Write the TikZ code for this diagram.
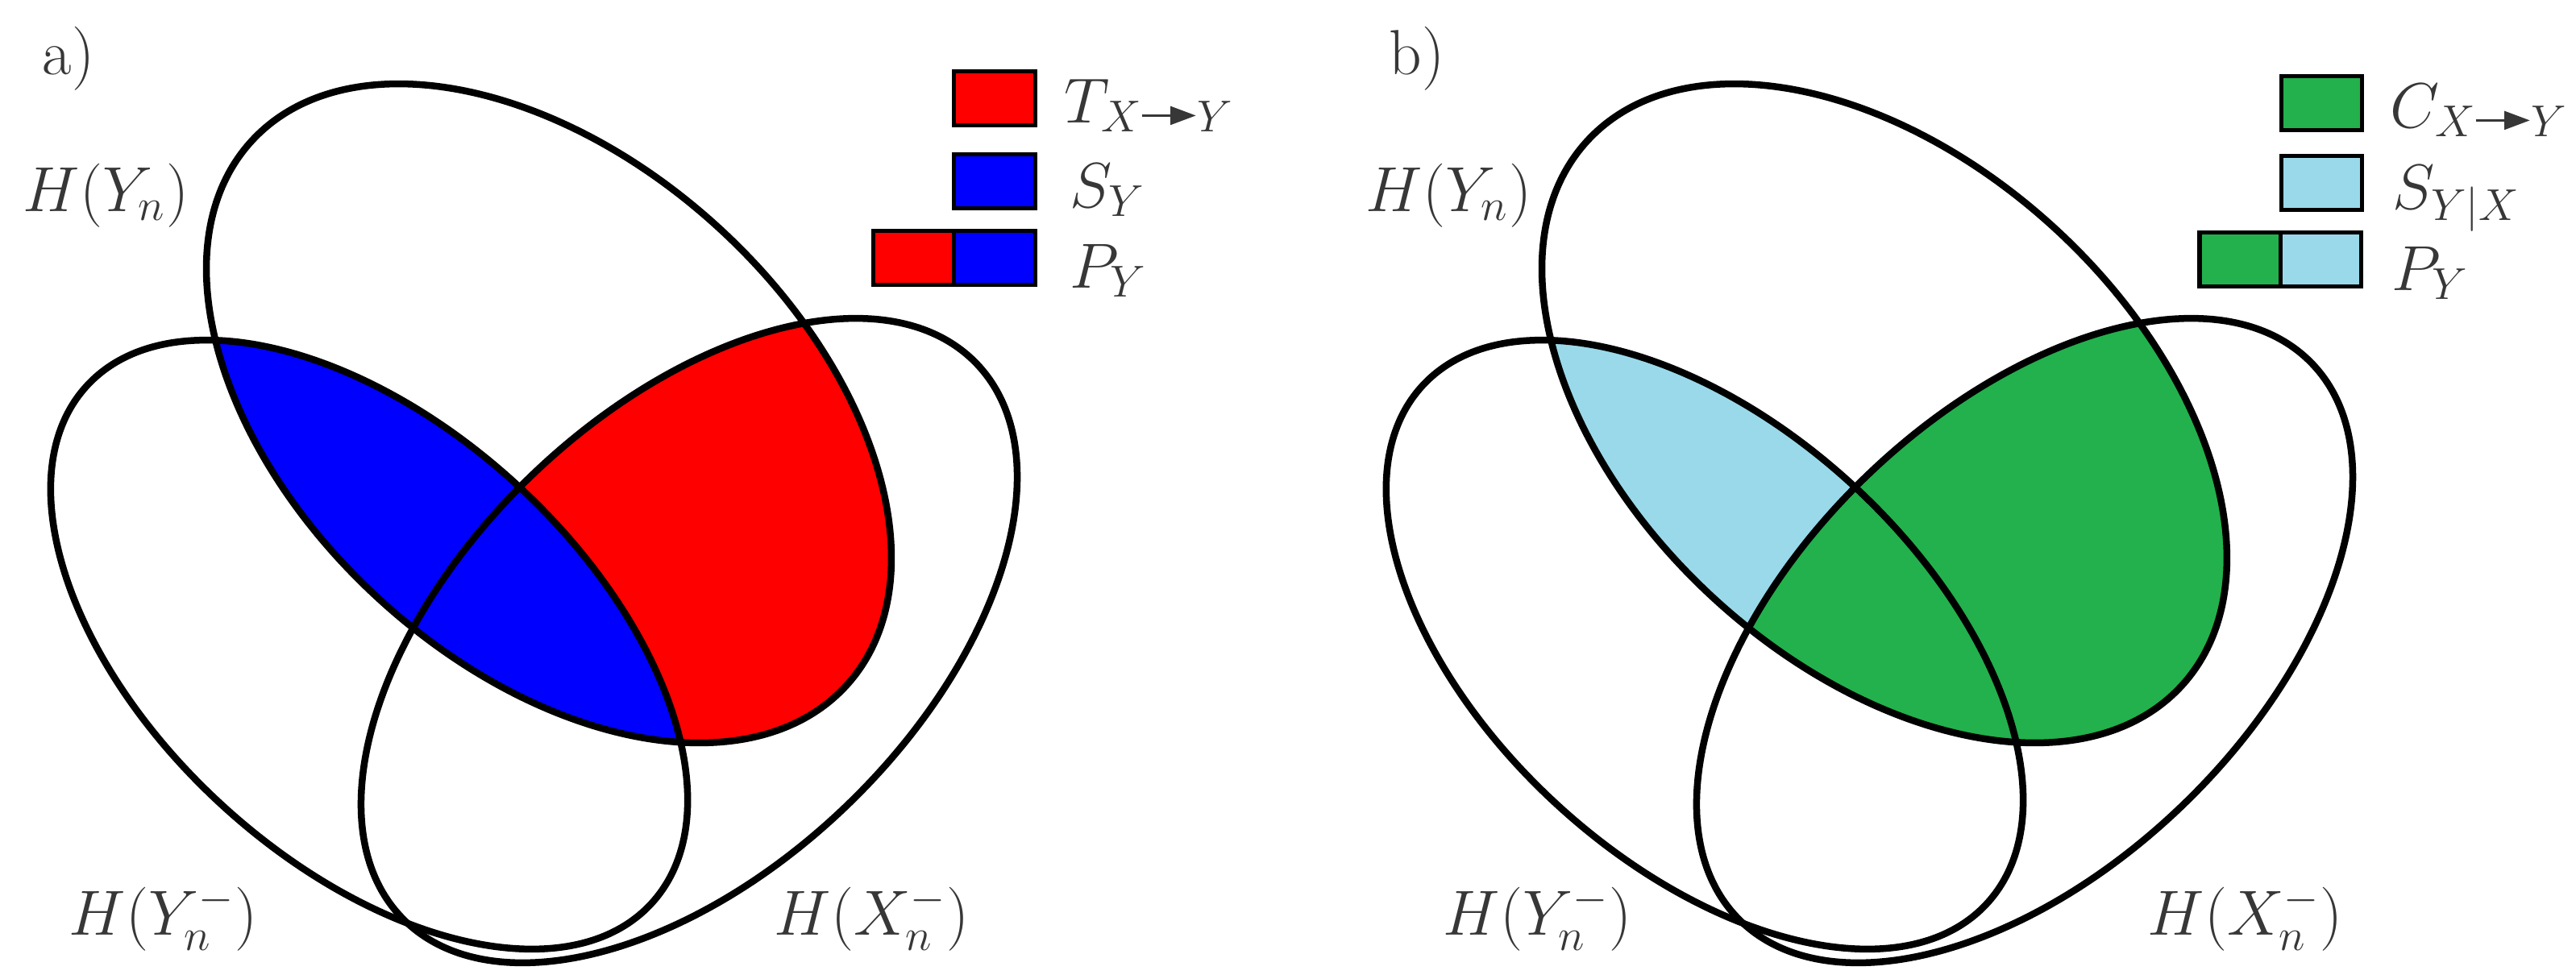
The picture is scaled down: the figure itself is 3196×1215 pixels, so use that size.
\RequirePackage{fix-cm}
\documentclass[tikz,border=0pt]{standalone}
\usetikzlibrary{arrows.meta}
\definecolor{myred}{RGB}{255,0,0}
\definecolor{myblue}{RGB}{0,0,255}
\definecolor{mygreen}{RGB}{34,177,76}
\definecolor{mylight}{RGB}{153,217,234}
\definecolor{txt}{RGB}{55,55,55}
\newcommand{\harr}{\mathrel{\tikz[baseline=-0.6ex]{\draw[line width=0.8pt,-{Triangle[length=9pt,width=6.5pt]}] (0pt,0pt) -- (19pt,0pt);}}}
\begin{document}
\begin{tikzpicture}[x=0.01cm,y=-0.01cm,
  ell/.style={line width=0.085cm},
  lab/.style={anchor=base west, inner sep=0pt, text=txt, font=\fontsize{22.5}{27}\selectfont},
  legbox/.style={draw=black, line width=0.05cm, minimum width=1.0cm, minimum height=0.66cm, inner sep=0pt},
  ellone/.style={insert path={(681,513) ellipse [x radius=5.0cm, y radius=3.12cm, rotate=-42.5]}},
  elltwo/.style={insert path={(458,800) ellipse [x radius=4.75cm, y radius=2.70cm, rotate=-42.5]}},
  ellthree/.style={insert path={(855,795) ellipse [x radius=4.95cm, y radius=2.83cm, rotate=44]}}
]
\useasboundingbox[fill=white] (0,0) rectangle (3196,1215);
% ---------- panel a ----------
\begin{scope}
  \begin{scope}
    \clip[ellone]; \fill[myred, ellthree];
  \end{scope}
  \begin{scope}
    \clip[ellone]; \fill[myblue, elltwo];
  \end{scope}
  \draw[ell, ellone];
  \draw[ell, elltwo];
  \draw[ell, ellthree];
\end{scope}
% ---------- panel b ----------
\begin{scope}[xshift=16.56cm]
  \begin{scope}
    \clip[ellone]; \fill[mylight, elltwo];
  \end{scope}
  \begin{scope}
    \clip[ellone]; \fill[mygreen, ellthree];
  \end{scope}
  \draw[ell, ellone];
  \draw[ell, elltwo];
  \draw[ell, ellthree];
\end{scope}
% ---------- labels a ----------
\node[lab] (la) at (52,92) {a)};
\node[lab] (hyna) at (28,262) {$H(Y_n)$};
\node[lab] (hyma) at (85,1160) {$H(Y_n^-)$};
\node[lab] (hxma) at (960,1160) {$H(X_n^-)$};
\node[legbox, fill=myred] (ka1) at (1234,122) {};
\node[lab] (ta1) at (1320,152) {$T_{X\harr Y}$};
\node[legbox, fill=myblue] (ka2) at (1234,225) {};
\node[lab] (ta2) at (1327,257) {$S_Y$};
\node[legbox, fill=myred] (ka3) at (1134,320) {};
\node[legbox, fill=myblue] (ka4) at (1234,320) {};
\node[lab] (ta3) at (1327,357) {$P_Y$};
% ---------- labels b ----------
\node[lab] (lb) at (1723,92) {b)};
\node[lab] (hynb) at (1694,262) {$H(Y_n)$};
\node[lab] (hymb) at (1790,1160) {$H(Y_n^-)$};
\node[lab] (hxmb) at (2664,1160) {$H(X_n^-)$};
\node[legbox, fill=mygreen] (kb1) at (2880,128) {};
\node[lab] (tb1) at (2965,158) {$C_{X\harr Y}$};
\node[legbox, fill=mylight] (kb2) at (2880,227) {};
\node[lab] (tb2) at (2968,259) {$S_{Y|X}$};
\node[legbox, fill=mygreen] (kb3) at (2779,322) {};
\node[legbox, fill=mylight] (kb4) at (2879,322) {};
\node[lab] (tb3) at (2967,360) {$P_Y$};
\end{tikzpicture}
\end{document}
